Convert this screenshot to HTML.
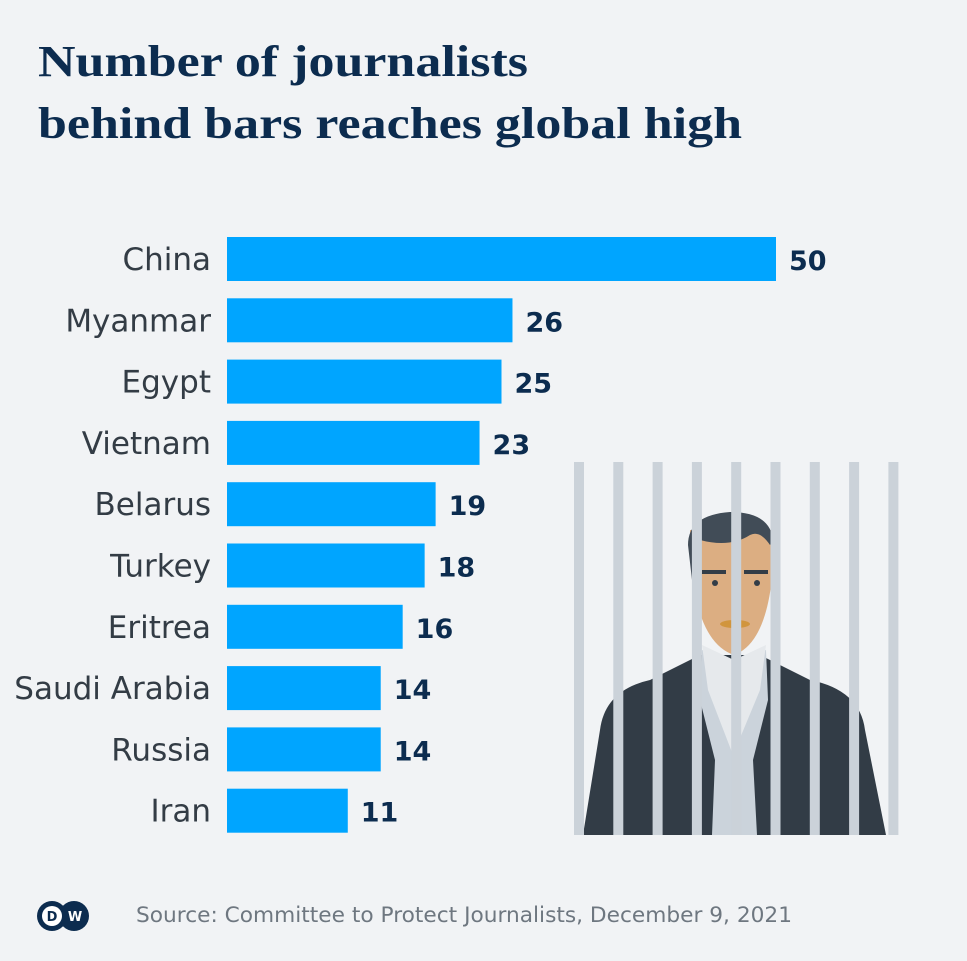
<!DOCTYPE html>
<html><head><meta charset="utf-8"><style>
body{margin:0;background:#f1f3f5;}
#c{position:relative;width:967px;height:961px;background:#f1f3f5;overflow:hidden;font-family:"DejaVu Sans",sans-serif;}
</style></head><body>
<div id="c">
<svg width="967" height="961">
<text x="38" y="76" font-family="Liberation Serif, serif" font-weight="bold" font-size="44" fill="#0c2c4f" textLength="490" lengthAdjust="spacingAndGlyphs">Number of journalists</text>
<text x="38" y="138" font-family="Liberation Serif, serif" font-weight="bold" font-size="44" fill="#0c2c4f" textLength="704" lengthAdjust="spacingAndGlyphs">behind bars reaches global high</text>
<g id="illus">
  <path d="M583,835 L600,730 Q605,690 650,680 L700,655 L760,655 L810,680 Q860,690 865,730 L886,835 Z" fill="#323c46"/>
  <path d="M702,650 L700,700 L715,760 L712,835 L757,835 L753,760 L768,700 L766,650 L734,660 Z" fill="#cbd3db"/>
  <path d="M702,645 L708,690 L733,755 L760,690 L766,645 L734,660 Z" fill="#e6e9ec"/>
  <path d="M690,530 Q690,640 734,655 Q775,640 774,530 Z" fill="#dcae82"/>
  <path d="M688,545 Q688,515 730,512 Q770,512 773,540 L770,545 Q760,530 750,535 Q730,548 700,540 L692,580 Z" fill="#414c57"/>
  <rect x="702" y="570" width="24" height="4" fill="#333d47"/><rect x="744" y="570" width="24" height="4" fill="#333d47"/>
  <circle cx="715" cy="583" r="3" fill="#333d47"/><circle cx="757" cy="583" r="3" fill="#333d47"/>
  <ellipse cx="735" cy="624" rx="15" ry="4" fill="#d1953d"/>
</g>
<g id="jail"></g>
<g id="bars"></g>
<circle cx="52" cy="916" r="15" fill="#0c2c4f"/>
<circle cx="74" cy="916" r="15" fill="#0c2c4f"/>
<circle cx="52" cy="916" r="10" fill="#fff"/>
<text x="52" y="921" font-size="13" font-weight="bold" fill="#0c2c4f" text-anchor="middle">D</text>
<text x="75" y="921" font-size="13" font-weight="bold" fill="#fff" text-anchor="middle">W</text>
<text x="136" y="922" font-size="21" fill="#6e7780" textLength="656" lengthAdjust="spacingAndGlyphs">Source: Committee to Protect Journalists, December 9, 2021</text>
</svg>
</div>
<script>
const categories=["China","Myanmar","Egypt","Vietnam","Belarus","Turkey","Eritrea","Saudi Arabia","Russia","Iran"];
const values=[50,26,25,23,19,18,16,14,14,11];
const ns="http://www.w3.org/2000/svg";
const x0=227, unit=10.98, y0=237, step=61.3, bh=44;
const xs=v=>v*unit, ys=i=>y0+i*step;
const g=document.getElementById('bars');
categories.forEach((c,i)=>{
  const r=document.createElementNS(ns,'rect');
  r.setAttribute('x',x0);r.setAttribute('y',ys(i));r.setAttribute('width',xs(values[i]));r.setAttribute('height',bh);r.setAttribute('fill','#00a5ff');
  
  
  g.appendChild(r);
  const t=document.createElementNS(ns,'text');
  t.setAttribute('x',211);t.setAttribute('y',ys(i)+33);t.setAttribute('text-anchor','end');t.setAttribute('font-size','31');t.setAttribute('fill','#333c45');
  t.textContent=c;
  
  
  g.appendChild(t);
  const v=document.createElementNS(ns,'text');
  v.setAttribute('x',x0+xs(values[i])+13);v.setAttribute('y',ys(i)+33);v.setAttribute('font-size','27');v.setAttribute('font-weight','bold');v.setAttribute('fill','#0c2c4f');
  v.textContent=values[i];
  
  
  g.appendChild(v);
});
const j=document.getElementById('jail');
for(let k=0;k<9;k++){
  const r=document.createElementNS(ns,'rect');
  r.setAttribute('x',574+k*39.3);r.setAttribute('y',462);r.setAttribute('width',10);r.setAttribute('height',373);r.setAttribute('fill','#cbd2d9');
  
  
  j.appendChild(r);
}
</script>
</body></html>
